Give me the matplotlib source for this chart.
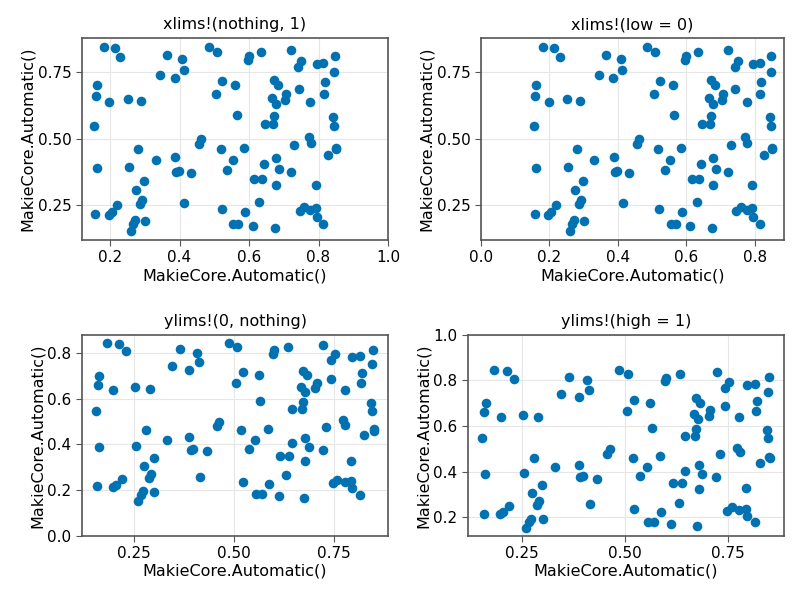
import matplotlib
matplotlib.use("Agg")
import matplotlib.pyplot as plt
from matplotlib.ticker import MultipleLocator

# scatter points
xs = [0.182, 0.213, 0.230, 0.364, 0.408, 0.486, 0.507, 0.344, 0.387, 0.412,
      0.162, 0.159, 0.198, 0.252, 0.289, 0.522, 0.561, 0.505, 0.564, 0.154,
      0.463, 0.456, 0.280, 0.518, 0.161, 0.255, 0.331, 0.388, 0.553, 0.537,
      0.391, 0.397, 0.432, 0.299, 0.275, 0.292, 0.287, 0.414, 0.219, 0.157,
      0.196, 0.205, 0.521, 0.271, 0.267, 0.300, 0.260, 0.555, 0.569,
      0.634, 0.722, 0.600, 0.596, 0.848, 0.751, 0.742, 0.795, 0.814, 0.846,
      0.672, 0.682, 0.819, 0.743, 0.706, 0.703, 0.816, 0.666, 0.677, 0.776,
      0.671, 0.645, 0.669, 0.843, 0.846, 0.772, 0.777, 0.730, 0.849, 0.850,
      0.585, 0.826, 0.678, 0.644, 0.686, 0.721, 0.615, 0.637, 0.678, 0.792,
      0.630, 0.588, 0.746, 0.758, 0.776, 0.792, 0.795, 0.814, 0.611, 0.675]
ys = [0.845, 0.840, 0.807, 0.816, 0.800, 0.845, 0.828, 0.741, 0.727, 0.759,
      0.701, 0.660, 0.640, 0.650, 0.641, 0.716, 0.703, 0.667, 0.591, 0.547,
      0.500, 0.479, 0.462, 0.461, 0.390, 0.393, 0.420, 0.431, 0.419, 0.381,
      0.375, 0.380, 0.370, 0.342, 0.307, 0.270, 0.253, 0.259, 0.250, 0.216,
      0.213, 0.223, 0.235, 0.194, 0.179, 0.192, 0.154, 0.181, 0.181,
      0.828, 0.835, 0.811, 0.797, 0.813, 0.794, 0.768, 0.782, 0.785, 0.751,
      0.721, 0.702, 0.712, 0.688, 0.670, 0.646, 0.667, 0.653, 0.630, 0.638,
      0.587, 0.557, 0.556, 0.581, 0.548, 0.505, 0.485, 0.477, 0.466, 0.460,
      0.467, 0.439, 0.429, 0.405, 0.388, 0.376, 0.350, 0.350, 0.326, 0.328,
      0.264, 0.225, 0.230, 0.244, 0.234, 0.239, 0.207, 0.178, 0.173, 0.164]

titles = ["xlims!(nothing, 1)", "xlims!(low = 0)", "ylims!(0, nothing)", "ylims!(high = 1)"]
label = "MakieCore.Automatic()"
blue = "#0072B2"

fig = plt.figure(figsize=(8, 6), dpi=100)
rects = [[0.1025, 0.600, 0.3825, 0.337], [0.601, 0.600, 0.379, 0.337],
         [0.1025, 0.107, 0.3825, 0.335], [0.585, 0.107, 0.395, 0.335]]

for i, r in enumerate(rects):
    ax = fig.add_axes(r)
    ax.scatter(xs, ys, s=48, color=blue, zorder=3, linewidths=0)
    ax.margins(0.05)
    ax.set_title(titles[i], fontsize=11.5)
    ax.set_xlabel(label, fontsize=11.5, labelpad=2)
    ax.set_ylabel(label, fontsize=11.5, labelpad=2)
    ax.grid(True, color="#e6e6e6", linewidth=0.8, zorder=0)
    ax.tick_params(labelsize=11, length=4, color="#555555")
    for s in ax.spines.values():
        s.set_color("#555555")
        s.set_linewidth(1.2)
    if i == 0:
        ax.set_xlim(right=1)
        ax.xaxis.set_major_locator(MultipleLocator(0.2))
        ax.yaxis.set_major_locator(MultipleLocator(0.25))
    elif i == 1:
        ax.set_xlim(left=0)
        ax.xaxis.set_major_locator(MultipleLocator(0.2))
        ax.yaxis.set_major_locator(MultipleLocator(0.25))
    elif i == 2:
        ax.set_ylim(bottom=0)
        ax.xaxis.set_major_locator(MultipleLocator(0.25))
        ax.yaxis.set_major_locator(MultipleLocator(0.2))
    else:
        ax.set_ylim(top=1)
        ax.xaxis.set_major_locator(MultipleLocator(0.25))
        ax.yaxis.set_major_locator(MultipleLocator(0.2))

fig.savefig("out.png", dpi=100)
